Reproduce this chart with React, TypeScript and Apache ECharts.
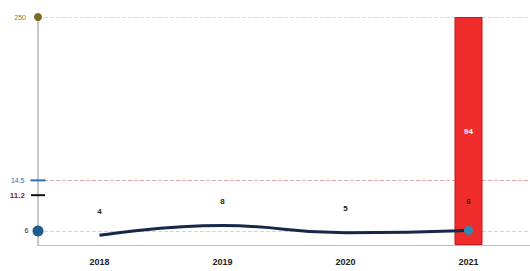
import React, { useEffect, useRef } from "react";
import * as echarts from "echarts";

const years = ["2018", "2019", "2020", "2021"];
const lineValues = [4, 8, 5, 6];
const barValues: (number | string)[] = ["-", "-", "-", 94];
const refValues = [250, 14.5, 11.2, 6];
const refLabels = ["250", "14.5", "11.2", "6"];
const refLabelColors = ["#8a7a2a", "#2f6db5", "#8b1a1a", "#222222"];
const refSymbolColors = ["#7d6a1e", "#2f6db5", "#111111", "#1d5c8c"];
const refSymbols = ["circle", "rect", "rect", "circle"];
const refSymbolSizes: (number | number[])[] = [8, [15, 2], [14, 2], 11];
const refLineColors = ["#d9d9d9", "#e4a8a8", "", "#d6d6d6"];

export default function App() {
  const ref = useRef<HTMLDivElement>(null);
  useEffect(() => {
    if (!ref.current) return;
    const chart = echarts.init(ref.current, null, { renderer: "svg" });
    const font = "Liberation Sans";
    const lineData = refValues
      .map((v, i) => ({ v, i }))
      .filter((d) => refLineColors[d.i] !== "")
      .map((d) => ({ yAxis: d.v, lineStyle: { color: refLineColors[d.i], type: "dashed", width: 1 } }));
    chart.setOption({
      animation: false,
      textStyle: { fontFamily: font },
      grid: { left: 38, right: -4, top: 17, bottom: 26 },
      xAxis: [
        {
          type: "category",
          data: years,
          axisTick: { show: false },
          axisLine: { lineStyle: { color: "#b8bccc", width: 1 } },
          axisLabel: { color: "#222", fontSize: 9, fontWeight: "bold", margin: 12 },
        },
        { type: "value", min: 0, max: 1, show: false },
      ],
      yAxis: [
        {
          type: "log",
          min: 4.7,
          max: 250,
          axisLabel: { show: false },
          axisTick: { show: false },
          splitLine: { show: false },
          axisLine: { show: true, lineStyle: { color: "#c8c8c8", width: 2 } },
        },
        {
          type: "value",
          min: 0,
          max: 94,
          show: false,
          splitLine: { show: false },
        },
      ],
      series: [
        {
          type: "line",
          xAxisIndex: 0,
          yAxisIndex: 0,
          data: [],
          z: 1,
          markLine: {
            silent: true,
            z: 1,
            symbol: ["none", "none"],
            label: { show: false },
            data: lineData,
          },
        },
        {
          type: "scatter",
          xAxisIndex: 1,
          yAxisIndex: 0,
          z: 6,
          data: refValues.map((v, i) => ({
            value: [0, v],
            symbol: refSymbols[i],
            symbolSize: refSymbolSizes[i],
            itemStyle: { color: refSymbolColors[i], opacity: 1 },
            label: {
              show: true,
              position: "left",
              formatter: refLabels[i],
              color: refLabelColors[i],
              fontSize: i === 2 ? 8 : 7,
              fontWeight: i === 2 ? "bold" : "normal",
              distance: i === 3 ? 4 : i === 0 ? 8 : 6,
            },
          })),
        },
        {
          type: "bar",
          xAxisIndex: 0,
          yAxisIndex: 1,
          data: barValues,
          barWidth: 28,
          z: 4,
          itemStyle: { color: "#ef2b2b", borderColor: "#c41414", borderWidth: 1 },
          label: {
            show: true,
            position: "inside",
            color: "#fff",
            fontSize: 8,
            fontWeight: "bold",
          },
        },
        {
          type: "line",
          xAxisIndex: 0,
          yAxisIndex: 1,
          smooth: true,
          data: lineValues.map((v, i) => ({
            value: v,
            symbol: "circle",
            symbolSize: i === lineValues.length - 1 ? 9 : 0,
            itemStyle: { color: "#2a8cb4" },
          })),
          lineStyle: { color: "#16284a", width: 3 },
          label: {
            show: true,
            position: "top",
            distance: 20,
            color: "#222",
            fontSize: 8,
            fontWeight: "bold",
          },
          z: 5,
        },
      ],
    });
    return () => chart.dispose();
  }, []);
  return (
    <div
      ref={ref}
      style={{ position: "fixed", left: 0, top: 0, width: 530, height: 271, background: "#fff" }}
    />
  );
}
